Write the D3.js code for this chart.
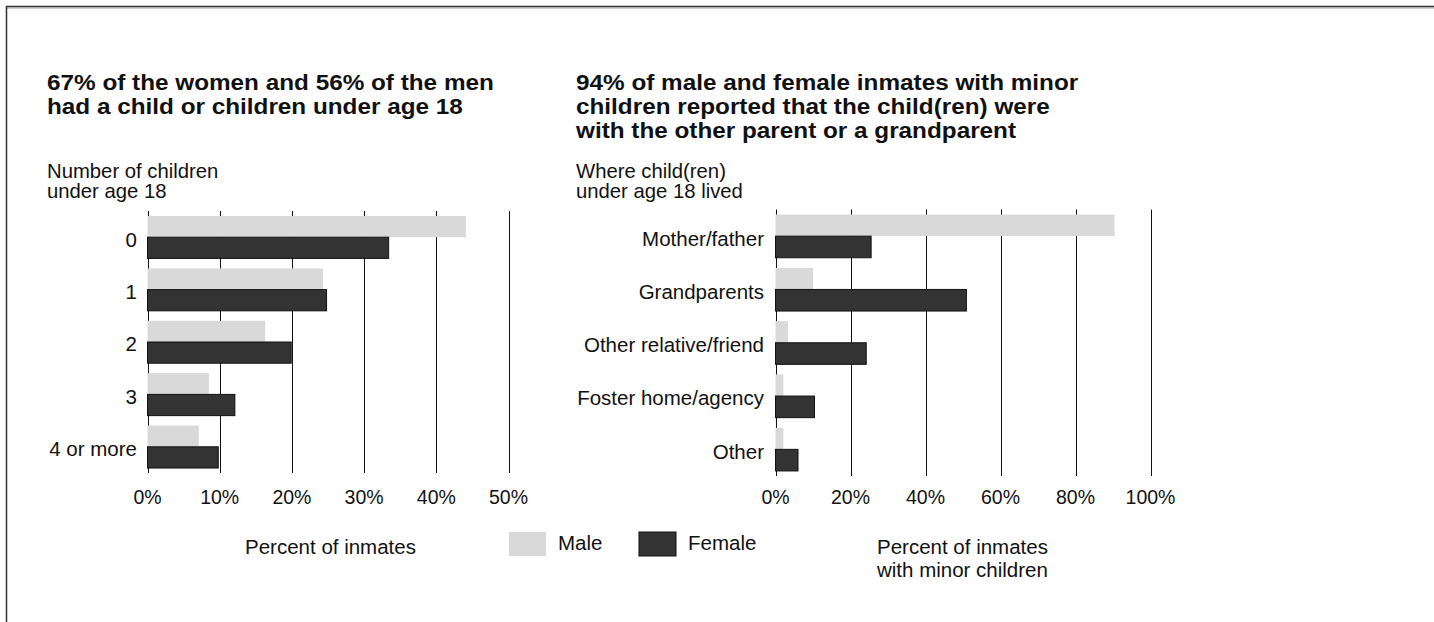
<!DOCTYPE html>
<html>
<head>
<meta charset="utf-8">
<script src="https://cdn.jsdelivr.net/npm/d3@7"></script>
<style>
  html, body { margin: 0; padding: 0; background: #fff; }
  svg { display: block; }
  text { font-family: "Liberation Sans", Arial, Helvetica, sans-serif; fill: #111; }
</style>
</head>
<body>
<svg id="chart" width="1434" height="622"></svg>
<script>
// ---- data ----
const childCategories = ["0", "1", "2", "3", "4 or more"];
const childMale = [44.1, 24.3, 16.3, 8.5, 7.1];
const childFemale = [33.4, 24.8, 19.9, 12.1, 9.8];
const childTicks = [0, 10, 20, 30, 40, 50];

const livedCategories = ["Mother/father", "Grandparents", "Other relative/friend", "Foster home/agency", "Other"];
const livedMale = [90.4, 10.0, 3.3, 2.1, 2.1];
const livedFemale = [25.5, 50.9, 24.2, 10.4, 6.0];
const livedTicks = [0, 20, 40, 60, 80, 100];

const seriesNames = ["Male", "Female"];

// ---- styles ----
const maleFill = "#d9d9d9";
const femaleFill = "#333333";
const femaleStroke = "#111111";

const svg = d3.select("#chart");

// frame lines (top and left)
svg.append("line").attr("x1", 6).attr("x2", 1434).attr("y1", 6.5).attr("y2", 6.5)
  .attr("stroke", "#333").attr("stroke-width", 1.5);
svg.append("line").attr("x1", 6).attr("x2", 1434).attr("y1", 8).attr("y2", 8)
  .attr("stroke", "#999").attr("stroke-width", 1);
svg.append("line").attr("x1", 6.5).attr("x2", 6.5).attr("y1", 6).attr("y2", 622)
  .attr("stroke", "#333").attr("stroke-width", 1.5);

function multiline(g, lines, x, y0, lh, opts, stretch) {
  lines.forEach((t, i) => {
    const tx = g.append("text").attr("x", x).attr("y", y0 + i * lh).text(t);
    if (opts) Object.entries(opts).forEach(([k, v]) => tx.attr(k, v));
    if (stretch) {
      const w = tx.node().getComputedTextLength();
      tx.attr("textLength", w * stretch).attr("lengthAdjust", "spacingAndGlyphs");
    }
  });
}

function panel(cfg) {
  const g = svg.append("g");
  const x = d3.scaleLinear().domain(cfg.domain).range(cfg.xRange);
  const y = d3.scaleBand().domain(cfg.categories).range(cfg.yRange)
    .paddingInner(0.19).paddingOuter(0.095);
  const sub = d3.scaleBand().domain(seriesNames).range([0, y.bandwidth()]).padding(0);

  // grid lines
  g.selectAll("line.grid").data(cfg.ticks).join("line")
    .attr("class", "grid")
    .attr("x1", d => Math.round(x(d)) + 0.5).attr("x2", d => Math.round(x(d)) + 0.5)
    .attr("y1", cfg.yRange[0]).attr("y2", cfg.yRange[1])
    .attr("stroke", "#111").attr("stroke-width", 1);

  // tick labels
  g.selectAll("text.tick").data(cfg.ticks).join("text")
    .attr("class", "tick")
    .attr("x", d => x(d)).attr("y", 504)
    .attr("text-anchor", "middle").attr("font-size", 19.5)
    .text(d => d + "%");

  // bars
  const rows = cfg.categories.map((c, i) => ({ c, m: cfg.male[i], f: cfg.female[i] }));
  g.selectAll("rect.male").data(rows).join("rect")
    .attr("class", "male")
    .attr("x", x(0)).attr("y", d => y(d.c) + sub("Male"))
    .attr("width", d => x(d.m) - x(0)).attr("height", sub.bandwidth())
    .attr("fill", maleFill);
  g.selectAll("rect.female").data(rows).join("rect")
    .attr("class", "female")
    .attr("x", x(0)).attr("y", d => y(d.c) + sub("Female"))
    .attr("width", d => x(d.f) - x(0)).attr("height", sub.bandwidth())
    .attr("fill", femaleFill).attr("stroke", femaleStroke).attr("stroke-width", 1);

  // category labels
  g.selectAll("text.cat").data(cfg.categories).join("text")
    .attr("class", "cat")
    .attr("x", cfg.labelX).attr("y", d => y(d) + y.bandwidth() / 2 + 4)
    .attr("text-anchor", "end").attr("dominant-baseline", "middle")
    .attr("font-size", 20.5)
    .text(d => d);

  // title
  multiline(g, cfg.title, cfg.titleX, 90, 24.2,
    { "font-size": 21.5, "font-weight": "bold" }, 1.13);
  // axis header
  multiline(g, cfg.header, cfg.titleX, 178, 20, { "font-size": 20.3 });
  // x axis title
  multiline(g, cfg.axisTitle, cfg.axisTitleX, 554, 23, { "font-size": 20.5, "text-anchor": cfg.axisTitleAnchor });
}

panel({
  categories: childCategories, male: childMale, female: childFemale, ticks: childTicks,
  domain: [0, 50], xRange: [147.5, 508.5], yRange: [211, 473],
  labelX: 137, titleX: 47,
  title: ["67% of the women and 56% of the men", "had a child or children under age 18"],
  header: ["Number of children", "under age 18"],
  axisTitle: ["Percent of inmates"], axisTitleX: 330.5, axisTitleAnchor: "middle"
});

panel({
  categories: livedCategories, male: livedMale, female: livedFemale, ticks: livedTicks,
  domain: [0, 100], xRange: [775.5, 1150.5], yRange: [209.5, 476],
  labelX: 764, titleX: 576,
  title: ["94% of male and female inmates with minor", "children reported that the child(ren) were", "with the other parent or a grandparent"],
  header: ["Where child(ren)", "under age 18 lived"],
  axisTitle: ["Percent of inmates", "with minor children"], axisTitleX: 877, axisTitleAnchor: "start"
});

// legend
const legend = svg.append("g");
const legendItems = [
  { name: seriesNames[0], x: 509, fill: maleFill, stroke: "none" },
  { name: seriesNames[1], x: 639, fill: femaleFill, stroke: femaleStroke }
];
legend.selectAll("rect").data(legendItems).join("rect")
  .attr("x", d => d.x).attr("y", 532).attr("width", 37).attr("height", 24)
  .attr("fill", d => d.fill).attr("stroke", d => d.stroke);
legend.selectAll("text").data(legendItems).join("text")
  .attr("x", d => d.x + 49).attr("y", 545)
  .attr("dominant-baseline", "middle").attr("font-size", 20.5)
  .text(d => d.name);
</script>
</body>
</html>
